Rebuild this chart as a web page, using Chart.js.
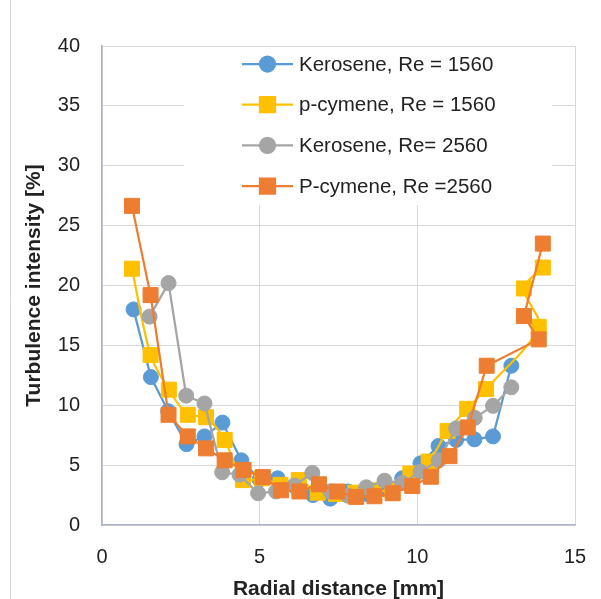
<!DOCTYPE html>
<html>
<head>
<meta charset="utf-8">
<script src="https://cdn.jsdelivr.net/npm/chart.js@4"></script>
<style>
  html, body { margin: 0; padding: 0; background: #fff; }
  #wrap { width: 601px; height: 599px; position: relative; }
</style>
</head>
<body>
<div id="wrap"><canvas id="chart" width="601" height="599"></canvas></div>
<script>
// Kerosene, Re = 1560
const keroLowX = [1.0, 1.55, 2.1, 2.68, 3.25, 3.82, 4.42, 5.0, 5.57, 6.13, 6.69, 7.24, 7.8, 8.38, 8.95, 9.52, 10.1, 10.67, 11.23, 11.81, 12.4, 12.98];
const keroLowY = [18.0, 12.35, 9.5, 6.75, 7.4, 8.55, 5.4, 3.8, 3.9, 3.2, 2.5, 2.2, 2.8, 2.6, 3.0, 3.9, 5.15, 6.6, 7.1, 7.15, 7.4, 13.3];

// p-cymene, Re = 1560
const cymLowX = [0.95, 1.54, 2.12, 2.72, 3.3, 3.89, 4.47, 5.07, 5.66, 6.24, 6.84, 7.42, 8.03, 8.62, 9.2, 9.78, 10.36, 10.96, 11.58, 12.18, 13.85, 13.38, 13.98];
const cymLowY = [21.4, 14.2, 11.3, 9.2, 9.0, 7.1, 3.75, 3.9, 3.35, 3.75, 2.7, 2.6, 2.7, 2.9, 2.9, 4.3, 5.3, 7.85, 9.7, 11.35, 16.55, 19.75, 21.5];

// Kerosene, Re = 2560
const keroHighX = [1.51, 2.11, 2.67, 3.25, 3.81, 4.36, 4.95, 5.52, 6.1, 6.67, 7.24, 7.8, 8.38, 8.96, 9.52, 10.1, 10.68, 11.23, 11.82, 12.4, 12.98];
const keroHighY = [17.4, 20.2, 10.8, 10.15, 4.4, 4.2, 2.65, 2.8, 3.3, 4.35, 2.8, 2.45, 3.15, 3.7, 3.5, 4.45, 5.4, 8.07, 8.95, 9.95, 11.5];

// P-cymene, Re = 2560
const cymHighX = [0.95, 1.54, 2.11, 2.72, 3.3, 3.89, 4.49, 5.1, 5.68, 6.26, 6.88, 7.46, 8.06, 8.64, 9.22, 9.84, 10.43, 11.02, 11.6, 12.2, 13.85, 13.38, 13.98];
const cymHighY = [26.65, 19.2, 9.2, 7.4, 6.4, 5.4, 4.6, 4.0, 2.9, 2.8, 3.4, 2.8, 2.35, 2.4, 2.65, 3.25, 4.03, 5.75, 8.15, 13.3, 15.5, 17.45, 23.5];

const seriesNames = ['Kerosene, Re = 1560', 'p-cymene, Re = 1560', 'Kerosene, Re= 2560', 'P-cymene, Re =2560'];
const xTicks = [0, 5, 10, 15];
const yTicks = [0, 5, 10, 15, 20, 25, 30, 35, 40];

const FONT = "'Liberation Sans', Arial, sans-serif";
const TEXT = '#222222';

function pts(xs, ys) {
  return xs.map((x, i) => ({ x: x, y: ys[i] }));
}

function series(label, xs, ys, color, shape, order, tension) {
  return {
    label: label,
    data: pts(xs, ys),
    showLine: true,
    borderColor: color,
    backgroundColor: color,
    borderWidth: 2.25,
    pointStyle: shape,
    pointRadius: shape === 'rect' ? 10.6 : 7.5,
    pointBorderWidth: 1,
    pointBorderColor: color,
    pointBackgroundColor: color,
    tension: tension,
    order: order,
  };
}

const datasets = [
  series(seriesNames[0], keroLowX, keroLowY, '#5B9BD5', 'circle', 3, 0),
  series(seriesNames[1], cymLowX, cymLowY, '#FFC000', 'rect', 2, 0.3),
  series(seriesNames[2], keroHighX, keroHighY, '#A5A5A5', 'circle', 1, 0),
  series(seriesNames[3], cymHighX, cymHighY, '#ED7D31', 'rect', 0, 0),
];

// legend drawn inside the plot area, like the original
const insideLegend = {
  id: 'insideLegend',
  afterDraw(chart) {
    const ctx = chart.ctx;
    ctx.save();
    ctx.fillStyle = '#ffffff';
    ctx.fillRect(184, 47, 368, 158);
    ctx.font = '20.5px ' + FONT;
    ctx.textBaseline = 'middle';
    ctx.textAlign = 'left';
    chart.data.datasets.forEach((ds, i) => {
      const y = 64 + i * 40.7;
      ctx.strokeStyle = ds.borderColor;
      ctx.lineWidth = 2.25;
      ctx.beginPath();
      ctx.moveTo(242, y);
      ctx.lineTo(293, y);
      ctx.stroke();
      ctx.fillStyle = ds.backgroundColor;
      Chart.helpers.drawPoint(ctx, {
        pointStyle: ds.pointStyle,
        radius: ds.pointRadius,
        borderWidth: 1,
        rotation: 0,
      }, 267.5, y);
      ctx.fill();
      ctx.fillStyle = TEXT;
      ctx.fillText(ds.label, 299, y + 1);
    });
    ctx.restore();
  },
};

const frameLine = {
  id: 'frameLine',
  beforeDraw(chart) {
    const ctx = chart.ctx;
    ctx.save();
    ctx.strokeStyle = '#D9D9D9';
    ctx.lineWidth = 1;
    ctx.beginPath();
    ctx.moveTo(10.5, 0);
    ctx.lineTo(10.5, 599);
    ctx.stroke();
    ctx.restore();
  },
};

new Chart(document.getElementById('chart').getContext('2d'), {
  type: 'scatter',
  data: { datasets: datasets },
  options: {
    responsive: false,
    animation: false,
    layout: { padding: { left: 0, right: 26, top: 46, bottom: 0 } },
    plugins: {
      legend: { display: false },
      tooltip: { enabled: false },
    },
    scales: {
      x: {
        type: 'linear',
        min: 0,
        max: 15,
        afterBuildTicks: (scale) => { scale.ticks = xTicks.map((v) => ({ value: v })); },
        afterFit: (scale) => {
          scale.height = 74;
          scale.paddingRight = 0;
          scale.paddingLeft = 0;
        },
        grid: { color: '#D9D9D9', lineWidth: 1, drawTicks: false },
        border: { color: '#AAB4C8', width: 1.5 },
        ticks: { color: TEXT, font: { family: FONT, size: 20 }, padding: 20 },
        title: {
          display: true,
          text: 'Radial distance [mm]',
          color: TEXT,
          font: { family: FONT, size: 21, weight: 'bold' },
          padding: { top: 0, bottom: -3 },
        },
      },
      y: {
        type: 'linear',
        min: 0,
        max: 40,
        afterBuildTicks: (scale) => { scale.ticks = yTicks.map((v) => ({ value: v })); },
        afterFit: (scale) => { scale.width = 102; },
        grid: { color: '#D9D9D9', lineWidth: 1, drawTicks: false },
        border: { color: '#AAB4C8', width: 1.5 },
        ticks: { color: TEXT, font: { family: FONT, size: 20 }, padding: 22 },
        title: {
          display: true,
          text: 'Turbulence intensity [%]',
          color: TEXT,
          font: { family: FONT, size: 21, weight: 'bold' },
          padding: { top: 22, bottom: 0 },
        },
      },
    },
  },
  plugins: [frameLine, insideLegend],
});
</script>
</body>
</html>
